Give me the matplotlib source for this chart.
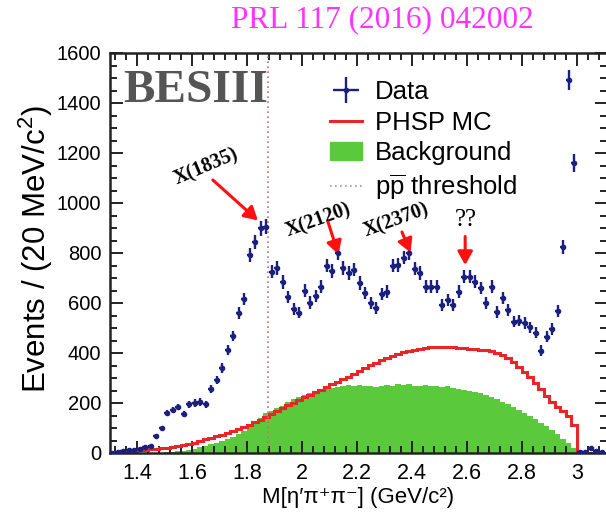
import numpy as np
import matplotlib
matplotlib.use("Agg")
import matplotlib.pyplot as plt
from matplotlib.lines import Line2D
from matplotlib.patches import Patch

plt.rcParams["font.family"] = ["Liberation Sans", "DejaVu Sans"]
plt.rcParams["mathtext.fontset"] = "custom"
plt.rcParams["mathtext.rm"] = "Liberation Sans"
plt.rcParams["mathtext.it"] = "Liberation Sans:italic"

# 20 MeV bins from 1.30 to 3.10 GeV/c^2
bin_lo, bin_hi, bin_w = 1.30, 3.10, 0.02

data_counts = [
    2, 5, 10, 14, 12, 18, 24, 30, 68, 100,
    160, 172, 184, 156, 196, 200, 204, 196, 256, 292,
    340, 412, 468, 560, 616, 792, 844, 900, 905, 725,
    740, 684, 624, 575, 562, 650, 602, 628, 665, 750,
    728, 800, 740, 720, 734, 680, 640, 600, 580, 636,
    645, 750, 752, 782, 800, 738, 720, 665, 665, 665,
    592, 612, 592, 645, 705, 705, 685, 660, 600, 665,
    565, 620, 572, 525, 530, 520, 503, 481, 410, 465,
    496, 569, 824, 1492, 1160, 6, 4, 20, 8, 5,
]

phsp_mc = [
    2, 4, 6, 8, 10, 12, 14, 16, 18, 20,
    22, 25, 28, 32, 36, 42, 50, 56, 62, 68,
    74, 80, 88, 96, 104, 114, 124, 134, 145, 156,
    168, 180, 192, 202, 212, 224, 234, 244, 254, 264,
    276, 286, 296, 306, 318, 330, 342, 352, 362, 372,
    382, 390, 398, 404, 410, 414, 418, 422, 425, 426,
    426, 425, 424, 422, 420, 418, 416, 414, 412, 408,
    402, 392, 380, 364, 346, 326, 304, 282, 258, 230,
    206, 186, 170, 150, 112, 0, 0, 0, 0, 0,
]

background = [
    0, 0, 0, 0, 0, 0, 0, 0, 0, 0,
    3, 5, 8, 10, 14, 18, 24, 30, 36, 42,
    50, 58, 66, 76, 88, 110, 128, 140, 160, 170,
    182, 190, 205, 215, 225, 232, 240, 246, 252, 258,
    262, 266, 268, 272, 270, 272, 268, 270, 265, 268,
    272, 270, 276, 272, 275, 268, 270, 272, 268, 270,
    265, 268, 262, 258, 254, 250, 245, 240, 232, 224,
    215, 205, 195, 185, 172, 160, 148, 135, 120, 108,
    92, 76, 58, 40, 20, 0, 0, 0, 0, 0,
]

ppbar_threshold = 2 * 0.93827

labels = ["X(1835)", "X(2120)", "X(2370)", "??"]
label_pos = [(1.652, 1145), (2.06, 932), (2.345, 932), (2.596, 930)]
label_rot = [23, 20, 20, 0]
label_size = [14.5, 14.5, 14.5, 18]
arrow_from = [(1.676, 1092), (2.095, 924), (2.364, 884), (2.594, 866)]
arrow_to = [(1.840, 930), (2.133, 794), (2.395, 802), (2.594, 752)]

edges = np.arange(len(data_counts) + 1) * bin_w + bin_lo
centers = 0.5 * (edges[:-1] + edges[1:])
counts = np.array(data_counts, dtype=float)

fig = plt.figure(figsize=(6.06, 5.15), dpi=100)
ax = fig.add_axes([109.5 / 606, 62 / 515, 497.5 / 606, 400 / 515])

ax.stairs(background, edges, fill=True, color="#5ac93b", zorder=1)
ax.stairs(phsp_mc, edges, color="#e8262a", lw=2.2, zorder=2)
ax.axvline(ppbar_threshold, color="#c07070", ls=(0, (1, 2)), lw=1.2, zorder=2)
eb = ax.errorbar(centers, counts, yerr=np.sqrt(counts), xerr=bin_w / 2,
                 fmt="o", ms=3.0, color="#1b1f7e", ecolor="#1b1f7e",
                 elinewidth=1.7, capsize=0, zorder=3)

ax.set_xlim(1.3, 3.11)
ax.set_ylim(0, 1600)
ax.set_xticks([1.4, 1.6, 1.8, 2.0, 2.2, 2.4, 2.6, 2.8, 3.0])
ax.set_xticklabels(["1.4", "1.6", "1.8", "2", "2.2", "2.4", "2.6", "2.8", "3"])
ax.set_xticks(np.arange(1.32, 3.11, 0.04), minor=True)
ax.set_yticks(np.arange(0, 1601, 200))
ax.set_yticks(np.arange(0, 1601, 50), minor=True)
ax.tick_params(which="both", direction="in", top=True, right=True,
               width=1.4, color="#222222")
ax.tick_params(which="major", length=9)
ax.tick_params(which="minor", length=5)
ax.tick_params(axis="x", labelsize=15.5, pad=7)
ax.tick_params(axis="y", labelsize=14.5, pad=6)
for s in ax.spines.values():
    s.set_linewidth(1.8)
    s.set_color("#222222")

fig.text(358 / 606, 1 - 497 / 515, "M[η\u2032π\u207aπ\u207b] (GeV/c²)",
         ha="center", va="center", fontsize=16)
fig.text(36 / 606, 1 - 249 / 515, r"Events / (20 MeV/c$^{2}$)",
         rotation=90, ha="center", va="center", fontsize=22.5)

ax.text(1.35, 1404, "BESIII", family="Liberation Serif", weight="bold",
        fontsize=34, color="#555555", ha="left", va="baseline")
fig.text(382 / 606, 1 - 20 / 515, "PRL 117 (2016) 042002",
         family="Liberation Serif", fontsize=22.5, color="#ff33ff",
         ha="center", va="center")

for lab, pos, rot, fs, a0, a1 in zip(labels, label_pos, label_rot, label_size,
                                     arrow_from, arrow_to):
    bold = lab != "??"
    ax.text(pos[0], pos[1], lab, family="Liberation Serif",
            weight="bold" if bold else "normal", fontsize=fs,
            rotation=rot, ha="center", va="center", rotation_mode="anchor")
    ax.annotate("", xy=a1, xytext=a0,
                arrowprops=dict(arrowstyle="-|>,head_length=0.8,head_width=0.45",
                                color="#ff1010", lw=2.2, shrinkA=0, shrinkB=0))

handles = [
    eb,
    Line2D([], [], color="#e8262a", lw=2.2),
    Patch(facecolor="#5ac93b", edgecolor="#5ac93b"),
    Line2D([], [], color="#b09090", ls=(0, (1, 2)), lw=1.2),
]
names = ["Data", "PHSP MC", "Background", r"$\mathregular{p\overline{p}}$ threshold"]
ax.legend(handles, names, loc="upper left", bbox_to_anchor=(0.422, 0.958),
          frameon=False, fontsize=18.5, handlelength=1.25, handletextpad=0.5,
          labelspacing=0.26, borderaxespad=0)

fig.savefig("out.png", dpi=100)
